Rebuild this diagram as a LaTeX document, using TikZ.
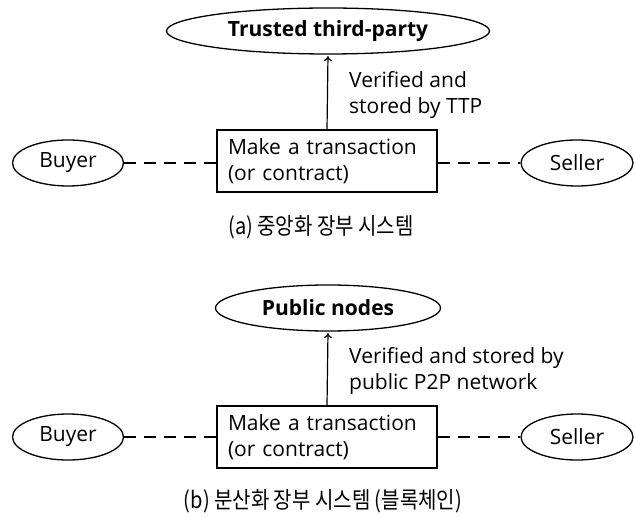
\documentclass[tikz,border=0pt]{standalone}
\usepackage{fontspec}
\setmainfont{Open Sans}
\newfontfamily\kr[FakeStretch=0.87]{Noto Sans CJK KR}
\usetikzlibrary{shapes.geometric,arrows.meta}
\begin{document}
\begin{tikzpicture}[x=1pt,y=-1pt,
  every node/.style={font=\fontsize{21}{26}\selectfont},
  partyshape/.style={ellipse, draw, line width=1.3pt, inner sep=0pt, minimum width=#1, minimum height=46pt},
  actbox/.style={draw, line width=1.2pt, minimum width=220pt, minimum height=62pt, text width=198pt, align=left, inner xsep=11pt, inner ysep=0pt},
  notetext/.style={anchor=west, align=left, inner sep=0pt},
  captext/.style={inner sep=0pt, font=\kr\fontsize{23}{26}\selectfont},
  dashlink/.style={dash pattern=on 12pt off 8pt, line width=1.2pt},
  uparrow/.style={-{To[length=5pt,width=8pt]}, line width=1.2pt, shorten >=1.5pt}]
\useasboundingbox (0,0) rectangle (636,518);
% (a)
\node[partyshape=323] (ttpA) at (328,31) {\textbf{Trusted third-party}};
\node[actbox] (boxA) at (327,161) {Make a transaction\\(or contract)};
\node[partyshape=111] (buyerA) at (68,163) {Buyer};
\node[partyshape=112] (sellerA) at (577,163) {Seller};
\node[notetext] (lblA) at (349,95) {Verified and\\stored by TTP};
\node[captext] (capA) at (321,227) {(a) 중앙화 장부 시스템};
\draw[uparrow] (boxA.north) -- (ttpA.south);
\draw[dashlink] (buyerA.east) -- (boxA.west |- buyerA.east);
\draw[dashlink] (boxA.east |- sellerA.west) -- (sellerA.west);
% (b)
\node[partyshape=225] (pubB) at (328,308) {\textbf{Public nodes}};
\node[actbox] (boxB) at (327,437) {Make a transaction\\(or contract)};
\node[partyshape=111] (buyerB) at (68,437) {Buyer};
\node[partyshape=112] (sellerB) at (577,437) {Seller};
\node[notetext] (lblB) at (349,371) {Verified and stored by\\public P2P network};
\node[captext] (capB) at (323,501) {(b) 분산화 장부 시스템 (블록체인)};
\draw[uparrow] (boxB.north) -- (pubB.south);
\draw[dashlink] (buyerB.east) -- (boxB.west |- buyerB.east);
\draw[dashlink] (boxB.east |- sellerB.west) -- (sellerB.west);
\end{tikzpicture}
\end{document}
